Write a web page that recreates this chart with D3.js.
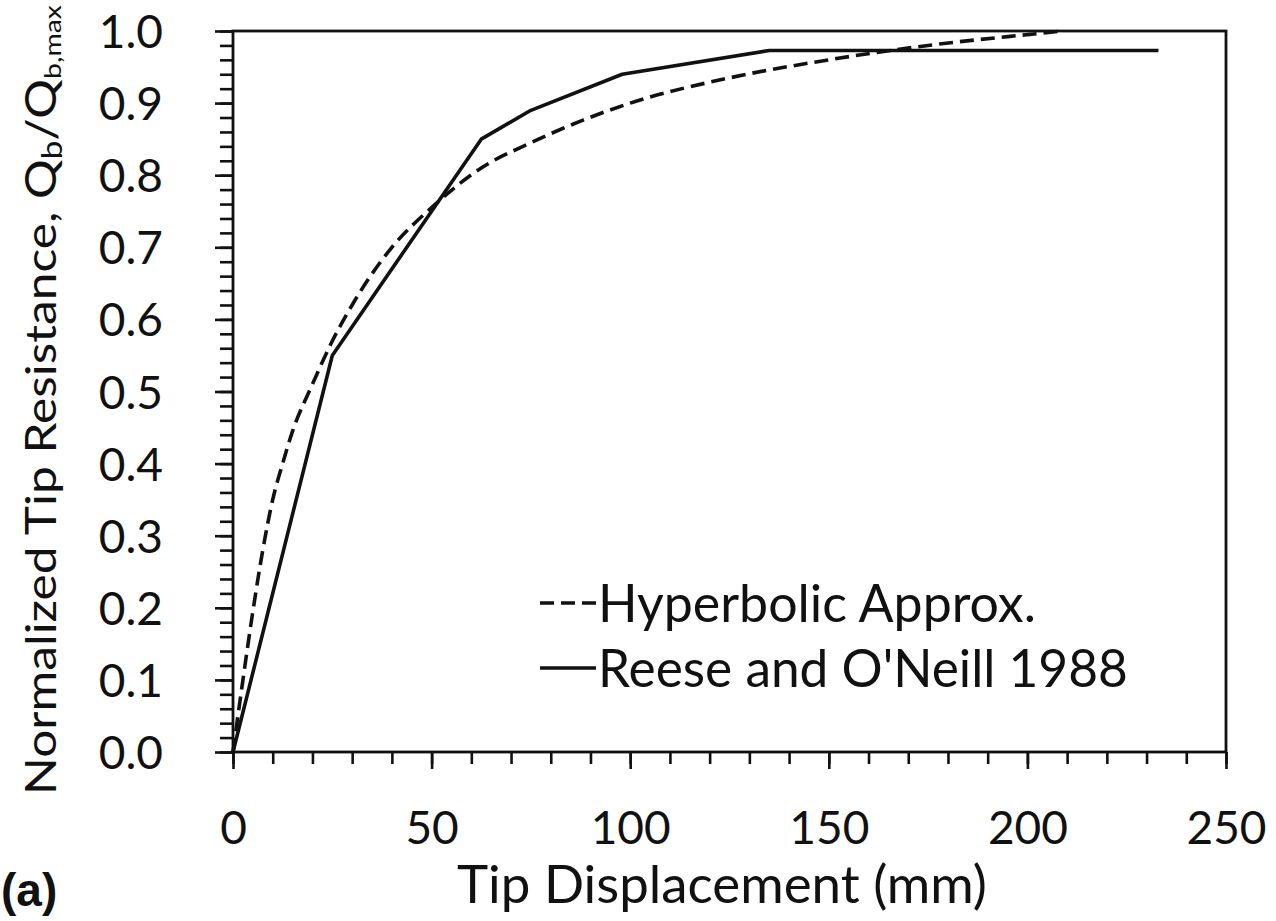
<!DOCTYPE html>
<html>
<head>
<meta charset="utf-8">
<script src="https://cdn.jsdelivr.net/npm/d3@7"></script>
<style>
  html, body { margin: 0; padding: 0; background: #fff; }
  svg { display: block; }
  text { fill: #111; }
</style>
</head>
<body>
<svg id="chart" width="1276" height="921"></svg>
<script>
// values
const hypX = [0, 2.5, 5, 7.5, 10, 12.5, 15, 20, 25, 30, 40, 50, 62.5, 75, 87.5, 100, 125, 150, 175, 200, 209];
const hypY = [0, 0.10, 0.195, 0.28, 0.35, 0.40, 0.445, 0.51, 0.57, 0.62, 0.70, 0.755, 0.81, 0.845, 0.875, 0.90, 0.935, 0.96, 0.98, 0.995, 1.0];

const reeseX = [0, 25, 62.5, 75, 98, 135, 233];
const reeseY = [0, 0.55, 0.85, 0.89, 0.94, 0.973, 0.973];

const xMajor = [0, 50, 100, 150, 200, 250];
const yMajor = [0, 0.1, 0.2, 0.3, 0.4, 0.5, 0.6, 0.7, 0.8, 0.9, 1.0];

const seriesNames = ['Hyperbolic Approx.', "Reese and O'Neill 1988"];

const FONT = 'Lato, "Open Sans", sans-serif';

const svg = d3.select('#chart');
const width = 1276;
const height = 921;
const margin = { top: 31, right: 50, bottom: 169, left: 233 };

const x = d3.scaleLinear()
  .domain([0, 250])
  .range([margin.left, width - margin.right]);

const y = d3.scaleLinear()
  .domain([0, 1])
  .range([height - margin.bottom, margin.top]);

// minor ticks
svg.append('g')
  .attr('class', 'x-minor')
  .attr('transform', `translate(0,${y(0)})`)
  .call(d3.axisBottom(x).tickValues(d3.range(0, 251, 10)).tickSize(12).tickSizeOuter(0).tickFormat(''));

svg.append('g')
  .attr('class', 'y-minor')
  .attr('transform', `translate(${x(0)},0)`)
  .call(d3.axisLeft(y).tickValues(d3.range(0, 1.0001, 0.02)).tickSize(13).tickSizeOuter(0).tickFormat(''));

// major ticks with labels
svg.append('g')
  .attr('class', 'x-axis')
  .attr('transform', `translate(0,${y(0)})`)
  .call(d3.axisBottom(x).tickValues(xMajor).tickSize(17).tickSizeOuter(0).tickPadding(42));

svg.append('g')
  .attr('class', 'y-axis')
  .attr('transform', `translate(${x(0)},0)`)
  .call(d3.axisLeft(y).tickValues(yMajor).tickSize(18).tickSizeOuter(0).tickPadding(52).tickFormat(d3.format('.1f')));

svg.selectAll('.x-minor .domain, .y-minor .domain, .x-axis .domain, .y-axis .domain').remove();
svg.selectAll('.tick line').attr('stroke', '#111').attr('stroke-width', 2.6);
svg.selectAll('.tick text')
  .attr('font-family', FONT)
  .attr('font-size', 46)
  .attr('fill', '#111');
svg.selectAll('.y-axis .tick text').attr('dy', '0.36em');

// plot frame
svg.append('rect')
  .attr('x', x(0))
  .attr('y', y(1))
  .attr('width', x(250) - x(0))
  .attr('height', y(0) - y(1))
  .attr('fill', 'none')
  .attr('stroke', '#111')
  .attr('stroke-width', 2.8);

// curves
const hypData = hypX.map((d, i) => ({ x: d, y: hypY[i] }));
const reeseData = reeseX.map((d, i) => ({ x: d, y: reeseY[i] }));

svg.append('path')
  .datum(hypData)
  .attr('fill', 'none')
  .attr('stroke', '#111')
  .attr('stroke-width', 3.6)
  .attr('stroke-dasharray', '14,7')
  .attr('d', d3.line().x(d => x(d.x)).y(d => y(d.y)).curve(d3.curveMonotoneX));

svg.append('path')
  .datum(reeseData)
  .attr('fill', 'none')
  .attr('stroke', '#111')
  .attr('stroke-width', 3.6)
  .attr('stroke-linejoin', 'round')
  .attr('d', d3.line().x(d => x(d.x)).y(d => y(d.y)));

// scale a text element so its width matches a target
function fitWidth(sel, target) {
  const w = sel.node().getComputedTextLength();
  const fs = parseFloat(sel.attr('font-size'));
  sel.attr('font-size', fs * target / w);
}

// legend
const legend = svg.append('g').attr('class', 'legend');
const rows = [
  { name: seriesNames[0], dash: '14,7', cy: 603, w: 438 },
  { name: seriesNames[1], dash: null, cy: 668, w: 530 }
];
rows.forEach(r => {
  legend.append('line')
    .attr('x1', 540).attr('x2', 596)
    .attr('y1', r.cy).attr('y2', r.cy)
    .attr('stroke', '#111')
    .attr('stroke-width', 3.6)
    .attr('stroke-dasharray', r.dash);
  const t = legend.append('text')
    .attr('x', 598)
    .attr('y', r.cy)
    .attr('dy', '0.36em')
    .attr('font-family', FONT)
    .attr('font-size', 48)
    .text(r.name);
  fitWidth(t, r.w);
});

// axis titles
const xTitle = svg.append('text')
  .attr('x', 722)
  .attr('y', 903)
  .attr('text-anchor', 'middle')
  .attr('font-family', FONT)
  .attr('font-size', 48)
  .text('Tip Displacement (mm)');
fitWidth(xTitle, 530);

const yTitle = svg.append('text')
  .attr('transform', 'translate(56,400) rotate(-90)')
  .attr('text-anchor', 'middle')
  .attr('font-family', FONT)
  .attr('font-size', 42)
  .attr('textLength', 790)
  .attr('lengthAdjust', 'spacingAndGlyphs');
yTitle.append('tspan').text('Normalized Tip Resistance, Q');
yTitle.append('tspan').attr('font-size', 28).attr('baseline-shift', '-22%').text('b');
yTitle.append('tspan').attr('baseline-shift', '0').text('/Q');
yTitle.append('tspan').attr('font-size', 24).attr('baseline-shift', '-22%').text('b,max');

// panel label
svg.append('text')
  .attr('x', 1)
  .attr('y', 906)
  .attr('font-family', '"Liberation Sans", Arial, sans-serif')
  .attr('font-weight', 'bold')
  .attr('font-size', 46)
  .text('(a)');
</script>
</body>
</html>
